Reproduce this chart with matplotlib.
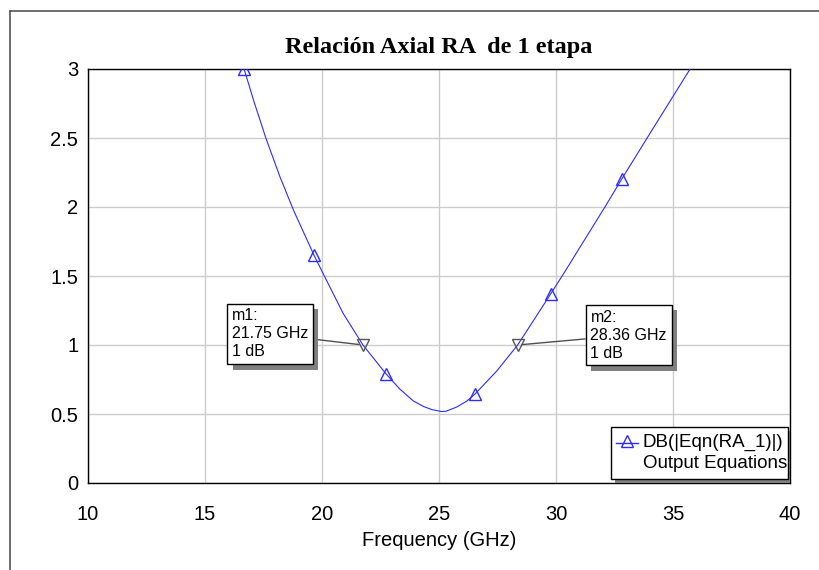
import matplotlib
matplotlib.use("Agg")
import matplotlib.pyplot as plt
import matplotlib.patheffects as pe
from matplotlib.lines import Line2D
from matplotlib.patches import Rectangle

# axial ratio of the 1-stage design (dB) vs frequency (GHz)
freq = [16.67, 17.10, 17.60, 18.20, 18.80, 19.66, 20.10, 20.90, 21.75, 22.74,
        23.33, 23.90, 24.33, 24.69, 25.10, 25.30, 25.75, 26.20, 26.54, 27.46,
        28.36, 29.03, 29.77, 30.30, 32.09, 32.80, 33.93, 35.73]
ra_db = [3.00, 2.76, 2.50, 2.22, 1.97, 1.65, 1.50, 1.23, 1.00, 0.79,
         0.68, 0.595, 0.555, 0.532, 0.518, 0.52, 0.55, 0.595, 0.645, 0.81,
         1.00, 1.175, 1.37, 1.51, 2.00, 2.20, 2.51, 3.00]
sym_idx = [0, 5, 9, 18, 22, 25]   # points that carry the trace symbol

# markers m1 / m2
mk_names = ["m1", "m2"]
mk_freq = [21.75, 28.36]
mk_val = [1.0, 1.0]

xticks = [10, 15, 20, 25, 30, 35, 40]
yticks = [0, 0.5, 1, 1.5, 2, 2.5, 3]
ytick_labels = ["0", "0.5", "1", "1.5", "2", "2.5", "3"]

trace_col = "#2b2bff"
sans = ["Liberation Sans", "DejaVu Sans"]

fig = plt.figure(figsize=(8.19, 5.7), dpi=100)
ax = fig.add_axes([88 / 819, 1 - 483 / 570, 702 / 819, 414 / 570])

ax.plot(freq, ra_db, color=trace_col, lw=0.8, marker="^", markevery=sym_idx,
        ms=9, mfc="none", mec=trace_col, mew=1.0, zorder=3)

ax.set_xlim(10, 40)
ax.set_ylim(0, 3)
ax.set_xticks(xticks)
ax.set_xticklabels([str(t) for t in xticks], fontfamily=sans, fontsize=14.5)
ax.set_yticks(yticks)
ax.set_yticklabels(ytick_labels, fontfamily=sans, fontsize=14.5)
ax.tick_params(axis="both", length=0)
ax.tick_params(axis="x", pad=16)
ax.tick_params(axis="y", pad=7)
ax.grid(True, color="#cccccc", lw=1.0)
ax.set_axisbelow(True)
for sp in ax.spines.values():
    sp.set_color("black")
    sp.set_linewidth(1.0)

ax.set_xlabel("Frequency (GHz)", fontfamily=sans, fontsize=14.5, labelpad=5)
fig.text(0.536, 1 - 47 / 570, "Relación Axial RA  de 1 etapa", ha="center",
         va="center", fontfamily="Liberation Serif", fontweight="bold",
         fontsize=17.5)

# marker readouts
offsets = [(-93, 11), (111, 10)]
shadow = [pe.SimplePatchShadow(offset=(4, -4), shadow_rgbFace="#808080", alpha=1.0),
          pe.Normal()]
for name, f, v, off in zip(mk_names, mk_freq, mk_val, offsets):
    ax.plot([f], [v], marker="v", ms=9, mfc="none", mec="#555555", mew=1.0,
            ls="none", zorder=4)
    ann = ax.annotate(f"{name}:\n{f:.2f} GHz\n{v:g} dB", xy=(f, v),
                      xytext=off, textcoords="offset pixels", ha="center",
                      va="center", ma="left", fontfamily=sans, fontsize=11.5,
                      linespacing=1.25, zorder=5,
                      bbox=dict(boxstyle="square,pad=0.3", fc="white",
                                ec="black", lw=1.0),
                      arrowprops=dict(arrowstyle="-", color="#505050", lw=1.0,
                                      shrinkA=0, shrinkB=3))
    ann.get_bbox_patch().set_path_effects(shadow)

# legend box
lx0, lx1 = 0.745, 0.997
ly0, ly1 = 0.010, 0.135
box = Rectangle((lx0, ly0), lx1 - lx0, ly1 - ly0, transform=ax.transAxes,
                fc="white", ec="black", lw=1.0, zorder=6)
box.set_path_effects([pe.SimplePatchShadow(offset=(3, -3),
                                           shadow_rgbFace="#808080", alpha=1.0),
                      pe.Normal()])
ax.add_patch(box)
hy = 0.097
ax.add_line(Line2D([0.752, 0.784], [hy, hy], transform=ax.transAxes,
                   color=trace_col, lw=1.0, zorder=7))
ax.add_line(Line2D([0.768], [hy + 0.004], transform=ax.transAxes, marker="^",
                   ms=8, mfc="none", mec=trace_col, mew=1.0, zorder=7))
ax.text(0.790, hy, "DB(|Eqn(RA_1)|)", transform=ax.transAxes, ha="left",
        va="center", fontfamily=sans, fontsize=13.5, zorder=8)
ax.text(0.790, hy - 0.05, "Output Equations", transform=ax.transAxes,
        ha="left", va="center", fontfamily=sans, fontsize=13.5, zorder=8)

# outer window frame
fig.add_artist(Line2D([10 / 819, 10 / 819], [0, 1 - 11 / 570],
                      transform=fig.transFigure, color="#555555", lw=1.2))
fig.add_artist(Line2D([10 / 819, 1], [1 - 11 / 570, 1 - 11 / 570],
                      transform=fig.transFigure, color="#555555", lw=1.2))

fig.savefig("out.png", dpi=100)
